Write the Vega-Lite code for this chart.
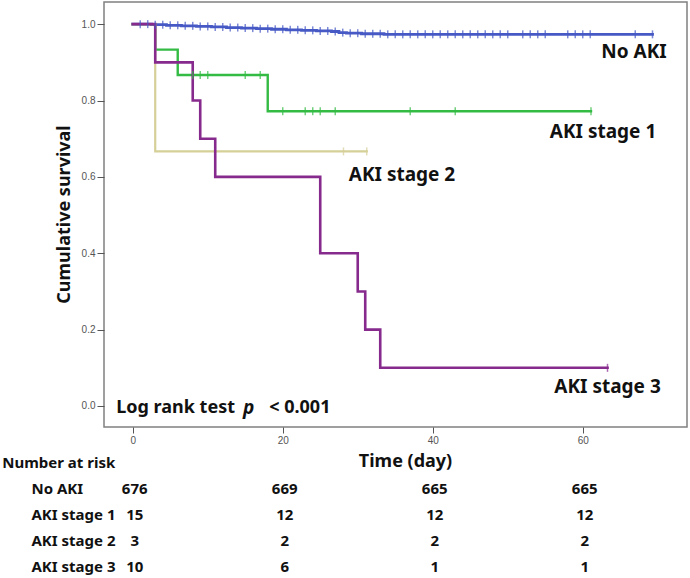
{
  "$schema": "https://vega.github.io/schema/vega-lite/v6.json",
  "width": 583,
  "height": 425,
  "autosize": {"type": "none"},
  "padding": {"left": 104, "top": 2, "right": 3, "bottom": 151},
  "background": "white",
  "config": {
    "view": {"stroke": "#808080", "strokeWidth": 1.5},
    "font": "Noto Sans",
    "axis": {"grid": false, "domain": false, "tickColor": "#555555", "tickWidth": 1, "labelFont": "Liberation Sans", "labelFontSize": 10, "labelColor": "#555555", "titleFont": "Noto Sans", "titleFontWeight": "bold", "titleFontSize": 18, "titleColor": "#111111"}
  },
  "datasets": {
    "curves": [
      {"g": "No AKI", "t": 0, "s": 1}, {"g": "No AKI", "t": 2.5, "s": 0.9985}, {"g": "No AKI", "t": 4.5, "s": 0.997}, {"g": "No AKI", "t": 6.5, "s": 0.9956}, {"g": "No AKI", "t": 8.5, "s": 0.9941}, {"g": "No AKI", "t": 10.5, "s": 0.9926}, {"g": "No AKI", "t": 12.5, "s": 0.9911}, {"g": "No AKI", "t": 14.5, "s": 0.9896}, {"g": "No AKI", "t": 16.5, "s": 0.9882}, {"g": "No AKI", "t": 18.5, "s": 0.9867}, {"g": "No AKI", "t": 20.5, "s": 0.9852}, {"g": "No AKI", "t": 22.5, "s": 0.9837}, {"g": "No AKI", "t": 24.5, "s": 0.9822}, {"g": "No AKI", "t": 26.5, "s": 0.9807}, {"g": "No AKI", "t": 27.5, "s": 0.9778}, {"g": "No AKI", "t": 28.5, "s": 0.9763}, {"g": "No AKI", "t": 30.5, "s": 0.9748}, {"g": "No AKI", "t": 33.5, "s": 0.9733}, {"g": "No AKI", "t": 69.3, "s": 0.9733},
      {"g": "AKI stage 1", "t": 0, "s": 1}, {"g": "AKI stage 1", "t": 3, "s": 0.9333}, {"g": "AKI stage 1", "t": 6, "s": 0.8667}, {"g": "AKI stage 1", "t": 18, "s": 0.772}, {"g": "AKI stage 1", "t": 61.1, "s": 0.772},
      {"g": "AKI stage 2", "t": 0, "s": 1}, {"g": "AKI stage 2", "t": 3, "s": 0.6667}, {"g": "AKI stage 2", "t": 31.2, "s": 0.6667},
      {"g": "AKI stage 3", "t": 0, "s": 1}, {"g": "AKI stage 3", "t": 3, "s": 0.9}, {"g": "AKI stage 3", "t": 8, "s": 0.8}, {"g": "AKI stage 3", "t": 9, "s": 0.7}, {"g": "AKI stage 3", "t": 11, "s": 0.6}, {"g": "AKI stage 3", "t": 25, "s": 0.4}, {"g": "AKI stage 3", "t": 30, "s": 0.3}, {"g": "AKI stage 3", "t": 31, "s": 0.2}, {"g": "AKI stage 3", "t": 33, "s": 0.1}, {"g": "AKI stage 3", "t": 63.3, "s": 0.1}
    ],
    "censor": [
      {"g": "No AKI", "t": 1, "s": 1}, {"g": "No AKI", "t": 2, "s": 1}, {"g": "No AKI", "t": 3, "s": 0.9985}, {"g": "No AKI", "t": 4, "s": 0.9985}, {"g": "No AKI", "t": 5, "s": 0.997}, {"g": "No AKI", "t": 6, "s": 0.997}, {"g": "No AKI", "t": 7, "s": 0.9956}, {"g": "No AKI", "t": 8, "s": 0.9956}, {"g": "No AKI", "t": 9, "s": 0.9941}, {"g": "No AKI", "t": 10, "s": 0.9941}, {"g": "No AKI", "t": 11, "s": 0.9926}, {"g": "No AKI", "t": 12, "s": 0.9926}, {"g": "No AKI", "t": 13, "s": 0.9911}, {"g": "No AKI", "t": 14, "s": 0.9911}, {"g": "No AKI", "t": 15, "s": 0.9896}, {"g": "No AKI", "t": 16, "s": 0.9896}, {"g": "No AKI", "t": 17, "s": 0.9882}, {"g": "No AKI", "t": 18, "s": 0.9882}, {"g": "No AKI", "t": 19, "s": 0.9867}, {"g": "No AKI", "t": 20, "s": 0.9867}, {"g": "No AKI", "t": 21, "s": 0.9852}, {"g": "No AKI", "t": 22, "s": 0.9852}, {"g": "No AKI", "t": 23, "s": 0.9837}, {"g": "No AKI", "t": 24, "s": 0.9837}, {"g": "No AKI", "t": 25, "s": 0.9822}, {"g": "No AKI", "t": 26, "s": 0.9822}, {"g": "No AKI", "t": 27, "s": 0.9807}, {"g": "No AKI", "t": 28, "s": 0.9778}, {"g": "No AKI", "t": 29, "s": 0.9763}, {"g": "No AKI", "t": 30, "s": 0.9763}, {"g": "No AKI", "t": 31, "s": 0.9748}, {"g": "No AKI", "t": 32, "s": 0.9748}, {"g": "No AKI", "t": 33, "s": 0.9748}, {"g": "No AKI", "t": 34, "s": 0.9733}, {"g": "No AKI", "t": 35, "s": 0.9733}, {"g": "No AKI", "t": 36, "s": 0.9733}, {"g": "No AKI", "t": 37, "s": 0.9733}, {"g": "No AKI", "t": 38, "s": 0.9733}, {"g": "No AKI", "t": 39, "s": 0.9733}, {"g": "No AKI", "t": 40, "s": 0.9733}, {"g": "No AKI", "t": 41, "s": 0.9733}, {"g": "No AKI", "t": 42, "s": 0.9733}, {"g": "No AKI", "t": 43, "s": 0.9733}, {"g": "No AKI", "t": 44, "s": 0.9733}, {"g": "No AKI", "t": 45, "s": 0.9733}, {"g": "No AKI", "t": 46, "s": 0.9733}, {"g": "No AKI", "t": 47, "s": 0.9733}, {"g": "No AKI", "t": 48, "s": 0.9733}, {"g": "No AKI", "t": 49, "s": 0.9733}, {"g": "No AKI", "t": 50, "s": 0.9733}, {"g": "No AKI", "t": 52, "s": 0.9733}, {"g": "No AKI", "t": 53, "s": 0.9733}, {"g": "No AKI", "t": 54, "s": 0.9733}, {"g": "No AKI", "t": 55, "s": 0.9733}, {"g": "No AKI", "t": 58, "s": 0.9733}, {"g": "No AKI", "t": 59, "s": 0.9733}, {"g": "No AKI", "t": 60, "s": 0.9733}, {"g": "No AKI", "t": 61, "s": 0.9733}, {"g": "No AKI", "t": 67, "s": 0.9733}, {"g": "No AKI", "t": 69.3, "s": 0.9733},
      {"g": "AKI stage 1", "t": 8, "s": 0.8667}, {"g": "AKI stage 1", "t": 9, "s": 0.8667}, {"g": "AKI stage 1", "t": 10, "s": 0.8667}, {"g": "AKI stage 1", "t": 15, "s": 0.8667}, {"g": "AKI stage 1", "t": 17, "s": 0.8667}, {"g": "AKI stage 1", "t": 20, "s": 0.772}, {"g": "AKI stage 1", "t": 23, "s": 0.772}, {"g": "AKI stage 1", "t": 24, "s": 0.772}, {"g": "AKI stage 1", "t": 25, "s": 0.772}, {"g": "AKI stage 1", "t": 27, "s": 0.772}, {"g": "AKI stage 1", "t": 37, "s": 0.772}, {"g": "AKI stage 1", "t": 43, "s": 0.772}, {"g": "AKI stage 1", "t": 61.1, "s": 0.772},
      {"g": "AKI stage 2", "t": 28.1, "s": 0.6667}, {"g": "AKI stage 2", "t": 31.2, "s": 0.6667},
      {"g": "AKI stage 3", "t": 63.3, "s": 0.1}
    ],
    "labelsRight": [
      {"t": 71.2, "s": 0.927, "text": "No AKI"},
      {"t": 69.8, "s": 0.717, "text": "AKI stage 1"},
      {"t": 43, "s": 0.605, "text": "AKI stage 2"},
      {"t": 70.4, "s": 0.05, "text": "AKI stage 3"}
    ],
    "labelsLeft": [
      {"t": -2.2, "s": -0.005, "text": "Log rank test"},
      {"t": 18.2, "s": -0.005, "text": "< 0.001"}
    ],
    "labelP": [
      {"t": 14.7, "s": -0.005, "text": "p"}
    ],
    "risk": [
      {"row": "No AKI", "t": 0, "n": 676}, {"row": "No AKI", "t": 20, "n": 669}, {"row": "No AKI", "t": 40, "n": 665}, {"row": "No AKI", "t": 60, "n": 665},
      {"row": "AKI stage 1", "t": 0, "n": 15}, {"row": "AKI stage 1", "t": 20, "n": 12}, {"row": "AKI stage 1", "t": 40, "n": 12}, {"row": "AKI stage 1", "t": 60, "n": 12},
      {"row": "AKI stage 2", "t": 0, "n": 3}, {"row": "AKI stage 2", "t": 20, "n": 2}, {"row": "AKI stage 2", "t": 40, "n": 2}, {"row": "AKI stage 2", "t": 60, "n": 2},
      {"row": "AKI stage 3", "t": 0, "n": 10}, {"row": "AKI stage 3", "t": 20, "n": 6}, {"row": "AKI stage 3", "t": 40, "n": 1}, {"row": "AKI stage 3", "t": 60, "n": 1}
    ],
    "rowNames": [
      {"row": "No AKI"}, {"row": "AKI stage 1"}, {"row": "AKI stage 2"}, {"row": "AKI stage 3"}
    ],
    "header": [
      {"row": "Number at risk"}
    ]
  },
  "resolve": {"scale": {"y": "independent"}},
  "layer": [
    {
      "layer": [
        {
          "data": {"name": "curves"},
          "mark": {"type": "line", "interpolate": "step-after", "strokeCap": "square"},
          "encoding": {
            "x": {"field": "t", "type": "quantitative", "scale": {"domain": [-3.83, 73.9], "nice": false, "zero": false},
              "axis": {"values": [0, 20, 40, 60], "title": "Time (day)", "tickSize": 6, "labelPadding": 2, "titleX": 301, "titleY": 34, "titleAlign": "center", "titleBaseline": "middle"}},
            "y": {"field": "s", "type": "quantitative", "scale": {"domain": [-0.055, 1.058], "nice": false, "zero": false},
              "axis": {"values": [0, 0.2, 0.4, 0.6, 0.8, 1], "format": ".1f", "tickSize": 7, "labelPadding": 2, "title": "Cumulative survival", "titleX": -40, "titleY": 212, "titleAngle": -90, "titleAlign": "center", "titleBaseline": "middle"}},
            "color": {"field": "g", "type": "nominal", "scale": {"domain": ["AKI stage 2", "AKI stage 1", "AKI stage 3", "No AKI"], "range": ["#d5cf98", "#33bb44", "#862a8d", "#4659c4"]}, "legend": null},
            "strokeWidth": {"field": "g", "type": "nominal", "scale": {"domain": ["AKI stage 2", "AKI stage 1", "AKI stage 3", "No AKI"], "range": [2.2, 2.8, 3.3, 2.8]}, "legend": null}
          }
        },
        {
          "data": {"name": "censor"},
          "mark": {"type": "tick", "orient": "vertical", "size": 8, "thickness": 1.5},
          "encoding": {
            "x": {"field": "t", "type": "quantitative"},
            "y": {"field": "s", "type": "quantitative"},
            "color": {"field": "g", "type": "nominal", "legend": null}
          }
        },
        {
          "data": {"name": "labelsRight"},
          "mark": {"type": "text", "align": "right", "baseline": "middle", "font": "Noto Sans", "fontWeight": "bold", "fontSize": 19, "color": "#111111"},
          "encoding": {
            "x": {"field": "t", "type": "quantitative"},
            "y": {"field": "s", "type": "quantitative"},
            "text": {"field": "text"}
          }
        },
        {
          "data": {"name": "labelsLeft"},
          "mark": {"type": "text", "align": "left", "baseline": "middle", "font": "Noto Sans", "fontWeight": "bold", "fontSize": 18, "color": "#111111"},
          "encoding": {
            "x": {"field": "t", "type": "quantitative"},
            "y": {"field": "s", "type": "quantitative"},
            "text": {"field": "text"}
          }
        },
        {
          "data": {"name": "labelP"},
          "mark": {"type": "text", "align": "left", "baseline": "middle", "font": "Noto Sans", "fontWeight": "bold", "fontStyle": "italic", "fontSize": 19, "color": "#111111"},
          "encoding": {
            "x": {"field": "t", "type": "quantitative"},
            "y": {"field": "s", "type": "quantitative"},
            "text": {"field": "text"}
          }
        }
      ]
    },
    {
      "layer": [
        {
          "data": {"name": "risk"},
          "mark": {"type": "text", "align": "center", "baseline": "middle", "font": "Noto Sans", "fontWeight": "bold", "fontSize": 15, "color": "#111111", "dx": 2},
          "encoding": {
            "x": {"field": "t", "type": "quantitative"},
            "y": {"field": "row", "type": "ordinal", "scale": {"domain": ["Number at risk", "No AKI", "AKI stage 1", "AKI stage 2", "AKI stage 3"], "range": [461, 565], "padding": 0}, "axis": null},
            "text": {"field": "n"}
          }
        },
        {
          "data": {"name": "rowNames"},
          "mark": {"type": "text", "align": "left", "baseline": "middle", "font": "Noto Sans", "fontWeight": "bold", "fontSize": 15, "color": "#111111"},
          "encoding": {
            "x": {"datum": -13.5, "type": "quantitative"},
            "y": {"field": "row", "type": "ordinal", "axis": null},
            "text": {"field": "row"}
          }
        },
        {
          "data": {"name": "header"},
          "mark": {"type": "text", "align": "left", "baseline": "middle", "font": "Noto Sans", "fontWeight": "bold", "fontSize": 15, "color": "#111111"},
          "encoding": {
            "x": {"datum": -17.4, "type": "quantitative"},
            "y": {"field": "row", "type": "ordinal", "axis": null},
            "text": {"field": "row"}
          }
        }
      ]
    }
  ]
}
